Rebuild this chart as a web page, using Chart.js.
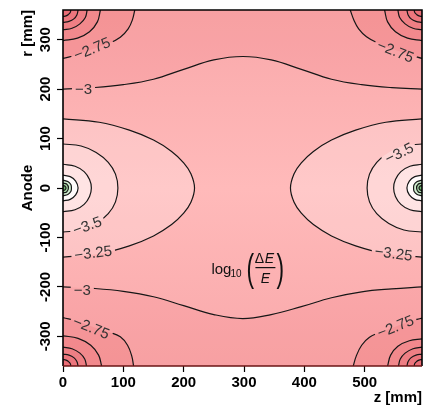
<!DOCTYPE html>
<html>
<head>
<title>log10(dE/E) contours</title>
<script src="https://cdn.jsdelivr.net/npm/chart.js"></script>
<style>
  body { margin: 0; background: #fff; }
</style>
</head>
<body>
<canvas id="contour-chart" width="424" height="407"></canvas>
<script>
// axes (mm)
const zTicks = [0, 100, 200, 300, 400, 500];
const rTicks = [-300, -200, -100, 0, 100, 200, 300];
const zRange = [0, 595];
const rRange = [-360, 360];

// contour lines, [z, r] in mm
// -3 lines along top and bottom
const c300top = [[0, 200], [50, 203], [100, 209], [150, 220], [200, 240], [250, 259], [298, 266], [345, 259], [395, 240], [445, 220], [495, 209], [545, 203], [595, 200]];
const c300bot = [[0, -200], [50, -203], [100, -209], [150, -220], [200, -238], [250, -256], [298, -264], [345, -256], [395, -240], [445, -222], [495, -210], [545, -204], [595, -200]];

// corner arcs: top-left, top-right, bottom-left, bottom-right
const c275 = [
  [[0, 262], [25, 270], [50, 281], [75, 292], [95, 305], [108, 322], [115, 340], [119, 360]],
  [[476, 360], [482, 340], [490, 322], [503, 306], [522, 293], [547, 281], [571, 271], [595, 262]],
  [[0, -262], [25, -270], [50, -281], [75, -291], [95, -301], [107, -318], [114, -340], [117, -360]],
  [[481, -360], [486, -340], [495, -318], [508, -302], [527, -291], [550, -281], [572, -271], [595, -263]]
];
const c250 = [
  [[0, 298], [24, 303], [44, 316], [57, 336], [62, 360]],
  [[533, 360], [538, 336], [551, 316], [571, 303], [595, 298]],
  [[0, -299], [25, -304], [46, -318], [59, -338], [64, -360]],
  [[538, -360], [543, -338], [555, -320], [574, -309], [595, -305]]
];
const c225 = [
  [[0, 320], [15, 323], [28, 332], [37, 345], [40, 360]],
  [[555, 360], [558, 345], [567, 332], [580, 323], [595, 320]],
  [[0, -322], [15, -325], [28, -334], [36, -346], [39, -360]],
  [[556, -360], [559, -346], [567, -334], [580, -325], [595, -322]]
];
const c200 = [
  [[0, 335], [10, 337], [18, 342], [23, 350], [25, 360]],
  [[570, 360], [572, 350], [577, 342], [585, 337], [595, 335]],
  [[0, -336], [10, -338], [18, -343], [23, -351], [25, -360]],
  [[570, -360], [572, -351], [577, -343], [585, -338], [595, -336]]
];
const c175 = [
  [[0, 347], [5, 348], [9, 351], [12, 355], [13, 360]],
  [[582, 360], [583, 355], [586, 351], [590, 348], [595, 347]],
  [[0, -347], [5, -348], [9, -351], [12, -355], [13, -360]],
  [[582, -360], [583, -355], [586, -351], [590, -348], [595, -347]]
];

// closed curves around the two anodes: left (z=0), right (z=595)
const c325 = [
  [[0, 140], [60, 133], [110, 117], [150, 97], [180, 74], [200, 51], [212, 29], [218, 0], [212, -29], [200, -51], [180, -74], [150, -97], [110, -117], [60, -133], [0, -140]],
  [[595, 140], [535, 133], [485, 117], [445, 97], [415, 74], [395, 51], [383, 29], [377, 0], [383, -29], [395, -51], [415, -74], [445, -97], [485, -117], [535, -133], [595, -140]]
];
const c350 = [
  [[0, 89], [30, 85], [55, 72], [75, 52], [87, 28], [91, 0], [87, -28], [75, -52], [55, -72], [30, -85], [0, -89]],
  [[595, 89], [565, 85], [540, 72], [520, 52], [508, 28], [504, 0], [508, -28], [520, -52], [540, -72], [565, -85], [595, -89]]
];
const c375 = [
  [[0, 48], [20, 44], [35, 33], [44, 17], [47, 0], [44, -17], [35, -33], [20, -44], [0, -48]],
  [[595, 48], [575, 44], [560, 33], [551, 17], [548, 0], [551, -17], [560, -33], [575, -44], [595, -48]]
];
const c400 = [
  [[0, 26], [12, 23], [21, 14], [25, 0], [21, -14], [12, -23], [0, -26]],
  [[595, 26], [583, 23], [574, 14], [570, 0], [574, -14], [583, -23], [595, -26]]
];
const c425 = [
  [[0, 16], [8, 13], [13, 7], [14, 0], [13, -7], [8, -13], [0, -16]],
  [[595, 16], [587, 13], [582, 7], [581, 0], [582, -7], [587, -13], [595, -16]]
];
const c450 = [
  [[0, 10], [6, 8], [9, 0], [6, -8], [0, -10]],
  [[595, 10], [589, 8], [586, 0], [589, -8], [595, -10]]
];
const c475 = [
  [[0, 5], [3, 4], [5, 0], [3, -4], [0, -5]],
  [[595, 5], [592, 4], [590, 0], [592, -4], [595, -5]]
];

// contour labels
const labelTexts = ['−2.75', '−3', '−3.5', '−3.25', '−3', '−2.75', '−2.75', '−3.5', '−3.25', '−2.75'];
const labelZ = [48, 34, 40, 50, 32, 47, 551, 557, 548, 551];
const labelR = [282, 200, -76, -131, -207, -282, 277, 71, -132, -280];
const labelAngle = [-22, 0, -20, -7, 0, 22, 22, -26, 7, -22];
const logLabelAt = [299, -161];

const FONT = '"Liberation Sans", Arial, sans-serif';

const toXY = arr => arr.map(([x, y]) => ({ x, y }));
const datasets = [];

function addFill(arr, mode, color, order) {
  datasets.push({
    data: toXY(arr), fill: mode, backgroundColor: color,
    borderColor: 'rgba(0,0,0,0)', borderWidth: 0, pointRadius: 0, tension: 0.4, order: order
  });
}
function addLine(arr) {
  datasets.push({
    data: toXY(arr), fill: false, isContourLine: true,
    borderColor: '#161616', borderWidth: 1.2, pointRadius: 0, tension: 0.4, order: 0
  });
}

// fills: darker toward the corners, lighter toward the anodes
addFill(c300top, 'end', 'rgba(225,60,70,0.07)', 40);
addFill(c300bot, 'start', 'rgba(225,60,70,0.07)', 40);
const cornerSets = [c275, c250, c225, c200, c175];
const cornerColors = ['rgba(225,60,70,0.13)', 'rgba(225,60,70,0.12)', 'rgba(225,60,70,0.12)', 'rgba(225,60,70,0.12)', 'rgba(225,60,70,0.12)'];
cornerSets.forEach((set, k) => {
  set.forEach((arc, i) => addFill(arc, i < 2 ? 'end' : 'start', cornerColors[k], 39 - k));
});
const anodeSets = [c325, c350, c375, c400, c425, c450, c475];
const anodeColors = ['rgba(255,255,255,0.22)', 'rgba(255,255,255,0.25)', 'rgba(255,255,255,0.35)', 'rgba(255,255,255,0.85)', '#cfeccf', '#a6d6a6', '#6db46d'];
anodeSets.forEach((set, k) => set.forEach(c => addFill(c, 'shape', anodeColors[k], 39 - k)));

[c300top, c300bot].forEach(addLine);
cornerSets.forEach(set => set.forEach(addLine));
anodeSets.forEach(set => set.forEach(addLine));

function labelBoxes(chart) {
  const { ctx, scales } = chart;
  ctx.save();
  ctx.font = '15px ' + FONT;
  const boxes = labelTexts.map((t, i) => ({
    t, a: labelAngle[i] * Math.PI / 180,
    x: scales.x.getPixelForValue(labelZ[i]),
    y: scales.y.getPixelForValue(labelR[i]),
    w: ctx.measureText(t).width / 2 + 3, h: 8
  }));
  ctx.restore();
  return boxes;
}

const decor = {
  id: 'decor',
  beforeDatasetsDraw(chart) {
    const { ctx, chartArea: a } = chart;
    const g = ctx.createLinearGradient(0, a.top, 0, a.bottom);
    g.addColorStop(0, '#f9a8aa');
    g.addColorStop(0.5, '#ffbaba');
    g.addColorStop(1, '#f9a8aa');
    ctx.save();
    ctx.fillStyle = g;
    ctx.fillRect(a.left, a.top, a.width, a.height);
    ctx.restore();
  },
  beforeDatasetDraw(chart, args) {
    if (!chart.data.datasets[args.index].isContourLine) return;
    const ctx = chart.ctx;
    ctx.save();
    ctx.beginPath();
    ctx.rect(0, 0, chart.width, chart.height);
    labelBoxes(chart).forEach(b => {
      const c = Math.cos(b.a), s = Math.sin(b.a);
      const pts = [[-b.w, -b.h], [b.w, -b.h], [b.w, b.h], [-b.w, b.h]]
        .map(([u, v]) => [b.x + u * c - v * s, b.y + u * s + v * c]);
      ctx.moveTo(pts[0][0], pts[0][1]);
      pts.slice(1).forEach(p => ctx.lineTo(p[0], p[1]));
      ctx.closePath();
    });
    ctx.clip('evenodd');
  },
  afterDatasetDraw(chart, args) {
    if (chart.data.datasets[args.index].isContourLine) chart.ctx.restore();
  },
  afterDatasetsDraw(chart) {
    const { ctx, chartArea: a, scales } = chart;
    ctx.save();
    // contour labels
    ctx.font = '15px ' + FONT;
    ctx.fillStyle = '#333';
    ctx.textAlign = 'center';
    ctx.textBaseline = 'middle';
    labelBoxes(chart).forEach(b => {
      ctx.save();
      ctx.translate(b.x, b.y);
      ctx.rotate(b.a);
      ctx.fillText(b.t, 0, 1);
      ctx.restore();
    });

    // log10(dE/E) label
    const cx = scales.x.getPixelForValue(logLabelAt[0]);
    const cy = scales.y.getPixelForValue(logLabelAt[1]);
    ctx.fillStyle = '#111';
    ctx.textBaseline = 'alphabetic';
    ctx.textAlign = 'left';
    ctx.font = '15px ' + FONT;
    ctx.fillText('log', cx - 32, cy + 6);
    ctx.font = '10px ' + FONT;
    ctx.fillText('10', cx - 13, cy + 9);
    ctx.textAlign = 'center';
    ctx.font = '14px ' + FONT;
    ctx.fillText('Δ', cx + 16, cy - 5);
    ctx.font = 'italic 14px ' + FONT;
    ctx.fillText('E', cx + 26, cy - 5);
    ctx.fillText('E', cx + 22, cy + 15);
    ctx.fillRect(cx + 12, cy - 0.6, 20, 1.2);
    ctx.save();
    ctx.font = '38px ' + FONT;
    ctx.translate(cx + 7, cy + 13);
    ctx.scale(0.6, 1);
    ctx.fillText('(', 0, 0);
    ctx.restore();
    ctx.save();
    ctx.font = '38px ' + FONT;
    ctx.translate(cx + 37, cy + 13);
    ctx.scale(0.6, 1);
    ctx.fillText(')', 0, 0);
    ctx.restore();

    // frame
    ctx.lineWidth = 1.6;
    ctx.strokeStyle = '#000';
    ctx.beginPath();
    ctx.moveTo(a.left, a.bottom);
    ctx.lineTo(a.left, a.top);
    ctx.lineTo(a.right, a.top);
    ctx.lineTo(a.right, a.bottom);
    ctx.stroke();
    ctx.strokeStyle = '#6b1414';
    ctx.beginPath();
    ctx.moveTo(a.left, a.bottom);
    ctx.lineTo(a.right, a.bottom);
    ctx.stroke();

    // second y title, at r = 0
    ctx.fillStyle = '#000';
    ctx.font = 'bold 15px ' + FONT;
    ctx.textBaseline = 'middle';
    ctx.translate(28, scales.y.getPixelForValue(0));
    ctx.rotate(-Math.PI / 2);
    ctx.fillText('Anode', 0, 0);
    ctx.restore();
  }
};

const tickFont = { family: FONT, size: 15, weight: 'bold' };

new Chart(document.getElementById('contour-chart').getContext('2d'), {
  type: 'line',
  data: { datasets },
  options: {
    responsive: false,
    animation: false,
    devicePixelRatio: 1,
    layout: { padding: { left: 0, right: 2, top: 10, bottom: 0 } },
    plugins: { legend: { display: false }, tooltip: { enabled: false } },
    scales: {
      x: {
        type: 'linear', min: zRange[0], max: zRange[1],
        afterBuildTicks: s => { s.ticks = zTicks.map(v => ({ value: v })); },
        afterFit: s => { s.height = 41; },
        ticks: { font: tickFont, color: '#000', padding: 2, maxRotation: 0 },
        grid: { drawOnChartArea: false, drawTicks: true, tickLength: 6, tickColor: '#000', tickWidth: 1.2 },
        border: { display: false },
        title: { display: true, text: 'z [mm]', align: 'end', color: '#000', font: tickFont, padding: { top: 0, bottom: 0 } }
      },
      y: {
        type: 'linear', min: rRange[0], max: rRange[1],
        afterBuildTicks: s => { s.ticks = rTicks.map(v => ({ value: v })); },
        afterFit: s => { s.width = 63; },
        ticks: { font: tickFont, color: '#000', padding: -4, minRotation: 90, maxRotation: 90, crossAlign: 'center' },
        grid: { drawOnChartArea: false, drawTicks: true, tickLength: 6, tickColor: '#000', tickWidth: 1.2 },
        border: { display: false },
        title: { display: true, text: 'r [mm]', align: 'end', color: '#000', font: tickFont, padding: { top: 19, bottom: 0 } }
      }
    }
  },
  plugins: [decor]
});
</script>
</body>
</html>
